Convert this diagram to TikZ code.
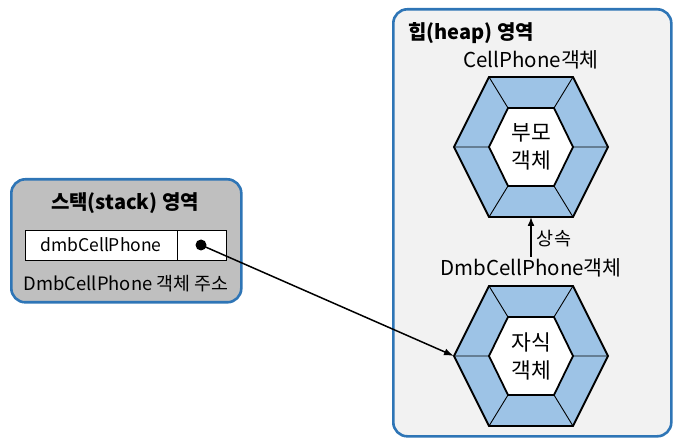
\documentclass[tikz,border=0pt]{standalone}
\usepackage{fontspec}
\setmainfont{Noto Sans CJK KR}
\usetikzlibrary{arrows.meta}
\definecolor{bord}{RGB}{46,117,182}
\definecolor{stackgray}{RGB}{191,191,191}
\definecolor{heapgray}{RGB}{242,242,242}
\definecolor{hexblue}{RGB}{157,195,230}
\tikzset{
  region/.style={draw=bord, line width=2.6pt, rounded corners=14pt, anchor=north west, inner sep=0pt},
  lbl/.style={inner sep=0pt, font=\fontsize{20.5}{24}\selectfont},
  title/.style={inner sep=0pt, font=\fontsize{20}{24}\selectfont\bfseries},
  small/.style={inner sep=0pt, font=\fontsize{17.5}{20}\selectfont},
  hexin/.style={inner sep=0pt, align=center, font=\fontsize{21.5}{28}\selectfont},
  hexa/.pic={
    \fill[hexblue] (-42,-70) -- (42,-70) -- (77,0) -- (42,70) -- (-42,70) -- (-77,0) -- cycle;
    \draw[line width=0.9pt] (-42,-70) -- (-23,-39) (42,-70) -- (23,-39) (77,0) -- (42,0)
      (42,70) -- (23,39) (-42,70) -- (-23,39) (-77,0) -- (-42,0);
    \draw[line width=1.8pt, line join=miter] (-42,-70) -- (42,-70) -- (77,0) -- (42,70) -- (-42,70) -- (-77,0) -- cycle;
    \filldraw[fill=white, line width=1.8pt] (-23,-39) -- (23,-39) -- (42,0) -- (23,39) -- (-23,39) -- (-42,0) -- cycle;
    \coordinate (-left) at (-77,0);
    \coordinate (-bottom) at (0,70);
  },
  ptr/.style={line width=1.5pt, -{Latex[length=10pt,width=7pt]}}
}
\begin{document}
\begin{tikzpicture}[x=1pt,y=-1pt]
\useasboundingbox (0,0) rectangle (681,441);
% stack region
\node[region, fill=stackgray, minimum width=230pt, minimum height=123pt] (stack) at (10,178) {};
\node[title] (stitle) at (125,203) {스택(stack) 영역};
\node[draw, line width=1.2pt, fill=white, minimum width=152pt, minimum height=30pt, anchor=north west, inner sep=0pt] (var) at (25,230) {};
\node[draw, line width=1.2pt, fill=white, minimum width=49pt, minimum height=30pt, anchor=north west, inner sep=0pt] (val) at (177,230) {};
\node[small] (vname) at (101,245) {dmbCellPhone};
\node[circle, fill=black, inner sep=0pt, minimum size=11pt] (dot) at (201,245) {};
\node[inner sep=0pt, font=\fontsize{18.4}{22}\selectfont] (saddr) at (126,284) {DmbCellPhone 객체 주소};
% heap region
\node[region, fill=heapgray, minimum width=278pt, minimum height=427pt] (heap) at (392,8) {};
\node[title] (htitle) at (471,33) {힙(heap) 영역};
\node[lbl] (ptitle) at (531,60) {CellPhone객체};
\pic (top) at (531,147) {hexa};
\node[hexin] (ptext) at (531,147) {부모\\객체};
\node[lbl] (ctitle) at (531,268) {DmbCellPhone객체};
\pic (bot) at (531,356) {hexa};
\node[hexin] (ctext) at (531,356) {자식\\객체};
\draw[line width=1.6pt, -{Latex[length=9pt,width=7pt]}] (ctitle.north -| top-bottom) ++(0,-2) coordinate (inhs) -- (top-bottom);
\node[inner sep=0pt, font=\fontsize{18.5}{20}\selectfont] (inh) at (554,239) {상속};
\draw[ptr] (dot.center) -- (bot-left);
\end{tikzpicture}
\end{document}
